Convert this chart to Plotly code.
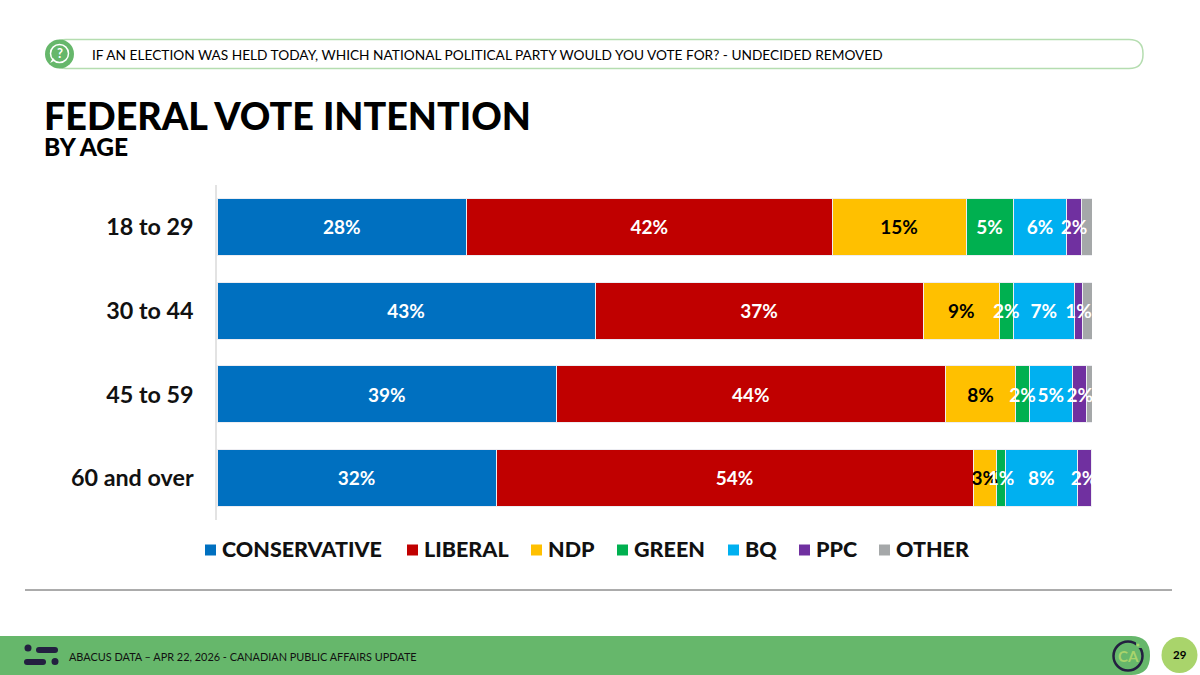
import plotly.graph_objects as go

# Data
ages = ["18 to 29", "30 to 44", "45 to 59", "60 and over"]
parties = ["CONSERVATIVE", "LIBERAL", "NDP", "GREEN", "BQ", "PPC", "OTHER"]
conservative = [28.5, 43.2, 38.8, 31.9]
liberal = [41.8, 37.5, 44.4, 54.5]
ndp = [15.3, 8.7, 8.1, 2.7]
green = [5.4, 1.6, 1.5, 1.0]
bq = [6.1, 7.0, 5.0, 8.2]
ppc = [1.7, 0.9, 1.6, 1.6]
other = [1.3, 1.2, 0.6, 0.0]

conservative_labels = ["28%", "43%", "39%", "32%"]
liberal_labels = ["42%", "37%", "44%", "54%"]
ndp_labels = ["15%", "9%", "8%", "3%"]
green_labels = ["5%", "2%", "2%", "1%"]
bq_labels = ["6%", "7%", "5%", "8%"]
ppc_labels = ["2%", "1%", "2%", "2%"]
other_labels = ["", "", "", ""]

colors = ["#0070C0", "#C00000", "#FFC000", "#00B050", "#00B0F0", "#7030A0", "#A5A8A9"]
label_colors = ["white", "white", "black", "white", "white", "white", "white"]
legend_x = [205, 407, 531, 617, 728, 799, 879]

FONT = "Lato"
W, H = 1200, 675


def px(x):
    return x / W


def py(y):
    return 1 - y / H


def rect(x0, y0, x1, y1, color):
    return dict(type="rect", xref="paper", yref="paper", x0=px(x0), x1=px(x1), y0=py(y0), y1=py(y1),
                fillcolor=color, line=dict(width=0), layer="above")


def circle(cx, cy, r, fill, line_color=None, line_width=0):
    return dict(type="circle", xref="paper", yref="paper", x0=px(cx - r), x1=px(cx + r),
                y0=py(cy - r), y1=py(cy + r), fillcolor=fill,
                line=dict(color=line_color or fill, width=line_width), layer="above")


def rounded(x0, y0, x1, y1, r, fill, line_color=None, line_width=0, left=True):
    # rounded box in pixel coordinates
    pts = f"M{px(x0 + (r if left else 0))},{py(y0)} L{px(x1 - r)},{py(y0)} "
    pts += f"Q{px(x1)},{py(y0)} {px(x1)},{py(y0 + r)} L{px(x1)},{py(y1 - r)} "
    pts += f"Q{px(x1)},{py(y1)} {px(x1 - r)},{py(y1)} "
    if left:
        pts += f"L{px(x0 + r)},{py(y1)} Q{px(x0)},{py(y1)} {px(x0)},{py(y1 - r)} "
        pts += f"L{px(x0)},{py(y0 + r)} Q{px(x0)},{py(y0)} {px(x0 + r)},{py(y0)} Z"
    else:
        pts += f"L{px(x0)},{py(y1)} L{px(x0)},{py(y0)} Z"
    return dict(type="path", xref="paper", yref="paper", path=pts, fillcolor=fill,
                line=dict(color=line_color or fill, width=line_width), layer="above")


def note(x, y, text, size, color="black", weight="normal", anchor="left"):
    return dict(xref="paper", yref="paper", x=px(x), y=py(y), text=text,
                showarrow=False, xanchor=anchor, yanchor="middle", align=anchor,
                font=dict(family=FONT, size=size, color=color, weight=weight), borderpad=0, borderwidth=0)


series = [conservative, liberal, ndp, green, bq, ppc, other]
labels = [conservative_labels, liberal_labels, ndp_labels, green_labels, bq_labels, ppc_labels, other_labels]

fig = go.Figure()
for name, values, color in zip(parties, series, colors):
    fig.add_trace(go.Bar(
        y=ages, x=values, name=name, orientation="h", cliponaxis=False,
        marker=dict(color=color, line=dict(color="#EDEDF2", width=1)),
    ))

# labels go in their own traces so that narrow bars do not cover the text of the one before
base = [0, 0, 0, 0]
for name, values, text, label_color in zip(parties, series, labels, label_colors):
    mids = [b + v / 2 for b, v in zip(base, values)]
    base = [b + v for b, v in zip(base, values)]
    fig.add_trace(go.Scatter(
        y=ages, x=mids, name=name, mode="text", text=text, textposition="middle center",
        cliponaxis=False, hoverinfo="skip", yaxis="y2",
        textfont=dict(family=FONT, size=19, color=label_color, weight="bold"),
    ))

shapes = [
    # question banner
    rounded(52, 39.5, 1143, 68.5, 14, "white", "#B5DDB0", 1.5),
    circle(59.5, 54, 14.5, "#66B76B"),
    circle(59.5, 53.5, 9, "#66B76B", "white", 1.5),
    dict(type="path", xref="paper", yref="paper", fillcolor="white", layer="above", line=dict(width=0),
         path=f"M{px(50)},{py(63)} L{px(55)},{py(60.5)} L{px(53)},{py(58)} Z"),
    # divider
    dict(type="line", xref="paper", yref="paper", x0=px(25), x1=px(1172), y0=py(590), y1=py(590),
         line=dict(color="#595959", width=1), layer="above"),
    # footer
    rounded(0, 636, 1150, 675, 19, "#66B76B", left=False),
    circle(28, 648, 3.5, "#231F40"),
    rounded(36, 647, 58, 653, 3, "#231F40"),
    rounded(24, 659, 46, 665, 3, "#231F40"),
    circle(55, 661.5, 3.5, "#231F40"),
    circle(1128, 656, 14.5, "rgba(0,0,0,0)", "#231F40", 2.5),
    rect(1136, 640, 1142, 648, "#66B76B"),
    circle(1138, 645, 1.5, "#A9D46B"),
    circle(1179.5, 655, 18, "#A9D46B"),
]
# legend squares
for x, color in zip(legend_x, colors):
    shapes.append(rect(x, 544.5, x + 11, 555.5, color))

annotations = [
    note(92, 54.5, "IF AN ELECTION WAS HELD TODAY, WHICH NATIONAL POLITICAL PARTY WOULD YOU VOTE FOR? - UNDECIDED REMOVED", 13.7),
    note(59.5, 53.5, "?", 13, "white", "bold", "center"),
    note(44, 115, "FEDERAL VOTE INTENTION", 37.7, weight=900),
    note(44, 146.5, "BY AGE", 24.5, weight=900),
    note(69, 656, "ABACUS DATA – APR 22, 2026 - CANADIAN PUBLIC AFFAIRS UPDATE", 10.9, "#111111"),
    note(1128, 656, "CA", 15, "#A9D46B", "bold", "center"),
    note(1179.5, 654, "29", 11.5, "black", "bold", "center"),
]
for x, name in zip(legend_x, parties):
    annotations.append(note(x + 17, 549, name, 21.5, "#111111", 900))

fig.update_layout(
    width=W, height=H, margin=dict(l=0, r=0, t=0, b=0, pad=0),
    barmode="stack", bargap=0.32, showlegend=False,
    paper_bgcolor="white", plot_bgcolor="rgba(0,0,0,0)",
    font=dict(family=FONT),
    xaxis=dict(domain=[px(217), px(1092)], range=[0, 100], visible=False),
    yaxis=dict(domain=[py(520), py(185)], range=[3.5, -0.5], showgrid=False, zeroline=False,
               showline=True, linecolor="#E3E3E3", linewidth=1.5, ticks="", ticklabelstandoff=17,
               tickfont=dict(family=FONT, size=23.3, color="#111111", weight="bold")),
    # same rows a touch lower, text mode sits high against the bars otherwise
    yaxis2=dict(domain=[py(522.5), py(187.5)], range=[3.5, -0.5], visible=False, anchor="x"),
    shapes=shapes, annotations=annotations,
)

# page has a default body margin, drop it so the figure fills the window
fig.write_html("out.html", config=dict(displayModeBar=False),
               post_script="document.body.style.margin='0';")
